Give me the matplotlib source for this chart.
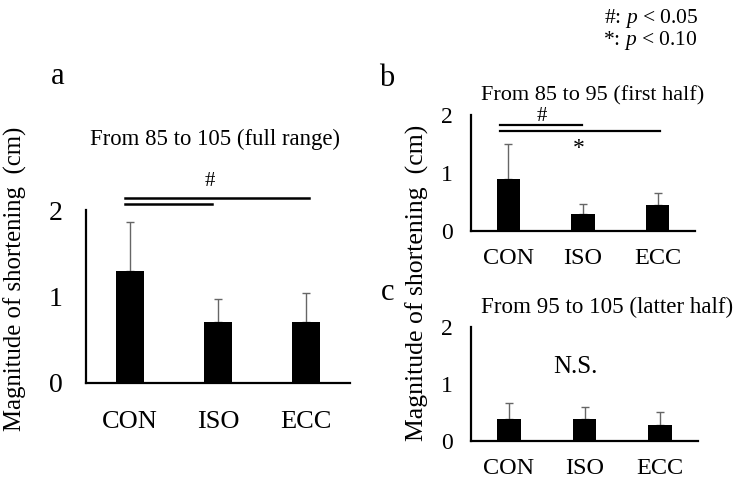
import matplotlib.pyplot as plt

plt.rcParams['font.family'] = ['Liberation Serif', 'DejaVu Serif']
plt.rcParams['mathtext.fontset'] = 'custom'
plt.rcParams['mathtext.rm'] = 'Liberation Serif'
plt.rcParams['mathtext.it'] = 'Liberation Serif:italic'

groups = ['CON', 'ISO', 'ECC']

# means and upper SD tops (cm)
full_mean = [1.30, 0.70, 0.71]
full_top = [1.86, 0.97, 1.04]
first_mean = [0.90, 0.29, 0.44]
first_top = [1.50, 0.47, 0.65]
latter_mean = [0.39, 0.39, 0.275]
latter_top = [0.67, 0.59, 0.51]

W, H = 733, 480
fig = plt.figure(figsize=(W / 100, H / 100), dpi=100)


def px_axes(left, right, bottom, top):
    return fig.add_axes([left / W, (H - bottom) / H, (right - left) / W, (bottom - top) / H])


def draw(ax, mean, top, ytick_size, xtick_size, xpad, ypad):
    x = range(len(groups))
    err = [t - m for t, m in zip(top, mean)]
    ax.bar(x, mean, width=0.31, color='black', zorder=2)
    ax.errorbar(x, mean, yerr=[[0] * len(mean), err], fmt='none',
                ecolor='#666666', elinewidth=1, capsize=3, capthick=1, zorder=1)
    ax.set_xlim(-0.5, 2.5)
    ax.set_ylim(0, 2)
    ax.set_yticks([0, 1, 2])
    ax.set_xticks(list(x))
    ax.set_xticklabels(groups)
    ax.tick_params(length=0)
    ax.tick_params(axis='x', pad=xpad, labelsize=xtick_size)
    ax.tick_params(axis='y', pad=ypad, labelsize=ytick_size)
    for s in ['top', 'right']:
        ax.spines[s].set_visible(False)
    for s in ['left', 'bottom']:
        ax.spines[s].set_linewidth(1.6)


# panel a
ax_a = px_axes(86, 350, 383, 210)
draw(ax_a, full_mean, full_top, 20, 19, 20, 17)
ax_a.plot([-0.06, 2.03], [2.14, 2.14], color='black', lw=1.8, clip_on=False)
ax_a.plot([-0.06, 0.93], [2.07, 2.07], color='black', lw=1.8, clip_on=False)
ax_a.text(0.91, 2.33, '#', ha='center', va='center', fontsize=15)
ax_a.text(0.97, 2.82, 'From 85 to 105 (full range)', ha='center', va='center', fontsize=16.4)
fig.text(15 / W, 1 - 279 / H, 'Magnitude of shortening  (cm)', rotation=90,
         ha='center', va='center', fontsize=17.8)
fig.text(58 / W, 1 - 77 / H, 'a', ha='center', va='center', fontsize=22)

# panel b
ax_b = px_axes(471, 695, 231, 115)
draw(ax_b, first_mean, first_top, 17, 17.5, 12, 13)
ax_b.plot([-0.11, 0.98], [1.82, 1.82], color='black', lw=1.6, clip_on=False)
ax_b.plot([-0.11, 2.03], [1.72, 1.72], color='black', lw=1.6, clip_on=False)
ax_b.text(0.45, 1.97, '#', ha='center', va='center', fontsize=15)
ax_b.text(0.95, 1.43, '*', ha='center', va='center', fontsize=17)
ax_b.text(1.13, 2.33, 'From 85 to 95 (first half)', ha='center', va='center', fontsize=16)
fig.text(387 / W, 1 - 78 / H, 'b', ha='center', va='center', fontsize=22)

# panel c
ax_c = px_axes(471, 698, 441, 327)
draw(ax_c, latter_mean, latter_top, 17, 17.5, 12, 13)
ax_c.text(0.88, 1.3, 'N.S.', ha='center', va='center', fontsize=18)
ax_c.text(1.3, 2.35, 'From 95 to 105 (latter half)', ha='center', va='center', fontsize=16.6)
fig.text(388 / W, 1 - 293 / H, 'c', ha='center', va='center', fontsize=22)

fig.text(417 / W, 1 - 283 / H, 'Magnitude of shortening  (cm)', rotation=90,
         ha='center', va='center', fontsize=18.5)

# significance key
fig.text(698 / W, 1 - 18 / H, '#: $p$ < 0.05', ha='right', va='center', fontsize=15.5)
fig.text(698 / W, 1 - 40 / H, '*: $p$ < 0.10', ha='right', va='center', fontsize=15.5)

fig.savefig('out.png', dpi=100, facecolor='white')
